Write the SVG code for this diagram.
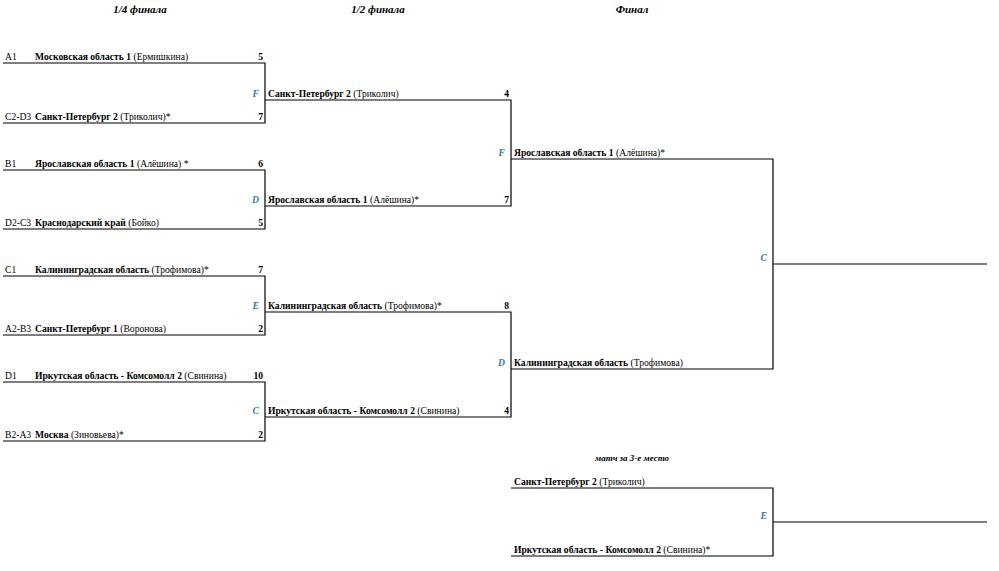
<svg xmlns="http://www.w3.org/2000/svg" width="999" height="571" viewBox="0 0 999 571">
<style>
text{font-family:"Liberation Serif","Times New Roman","DejaVu Serif",serif;font-size:9.6px;fill:#000}
.b{font-weight:bold}
.t{font-weight:bold;font-style:italic;font-size:11px;text-anchor:middle}
.sub{font-weight:bold;font-style:italic;font-size:9px;text-anchor:middle}
.s{font-weight:bold;text-anchor:end}
.l{font-weight:bold;font-style:italic;fill:#2e75b6;text-anchor:end}
.c path{fill:none;stroke:#000;stroke-width:1.2}
</style>
<rect width="999" height="571" fill="#fff"/>
<g id="titles">
<text class="t" x="140" y="13">1/4 финала</text>
<text class="t" x="378" y="13">1/2 финала</text>
<text class="t" x="632" y="13">Финал</text>
<text class="sub" x="632" y="461">матч за 3-е место</text>
</g>
<g class="c" id="connectors">
<path d="M3,63H265V123H3"/>
<path d="M3,170H265V229H3"/>
<path d="M3,276H265V335H3"/>
<path d="M3,382H265V441H3"/>
<path d="M265,100H511V206H265"/>
<path d="M265,312H511V417H265"/>
<path d="M511,159H773V369H511"/>
<path d="M773,264H987"/>
<path d="M511,488H773V556H511"/>
<path d="M773,522H987"/>
</g>
<g id="qf1"><text x="5" y="60">A1</text><text x="35" y="60"><tspan class="b">Московская область 1</tspan> (Ермишкина)</text><text class="s" x="263" y="60">5</text></g>
<g id="qf2"><text x="5" y="120">C2-D3</text><text x="35" y="120"><tspan class="b">Санкт-Петербург 2</tspan> (Триколич)*</text><text class="s" x="263" y="120">7</text></g>
<g id="qf3"><text x="5" y="167">B1</text><text x="35" y="167"><tspan class="b">Ярославская область 1</tspan> (Алёшина) *</text><text class="s" x="263" y="167">6</text></g>
<g id="qf4"><text x="5" y="226">D2-C3</text><text x="35" y="226"><tspan class="b">Краснодарский край</tspan> (Бойко)</text><text class="s" x="263" y="226">5</text></g>
<g id="qf5"><text x="5" y="273">C1</text><text x="35" y="273"><tspan class="b">Калининградская область</tspan> (Трофимова)*</text><text class="s" x="263" y="273">7</text></g>
<g id="qf6"><text x="5" y="332">A2-B3</text><text x="35" y="332"><tspan class="b">Санкт-Петербург 1</tspan> (Воронова)</text><text class="s" x="263" y="332">2</text></g>
<g id="qf7"><text x="5" y="379">D1</text><text x="35" y="379"><tspan class="b">Иркутская область - Комсомолл 2</tspan> (Свинина)</text><text class="s" x="263" y="379">10</text></g>
<g id="qf8"><text x="5" y="438">B2-A3</text><text x="35" y="438"><tspan class="b">Москва</tspan> (Зиновьева)*</text><text class="s" x="263" y="438">2</text></g>
<g id="sf1"><text class="l" x="259" y="97">F</text><text x="268" y="97"><tspan class="b">Санкт-Петербург 2</tspan> (Триколич)</text><text class="s" x="509" y="97">4</text></g>
<g id="sf2"><text class="l" x="259" y="203">D</text><text x="268" y="203"><tspan class="b">Ярославская область 1</tspan> (Алёшина)*</text><text class="s" x="509" y="203">7</text></g>
<g id="sf3"><text class="l" x="259" y="309">E</text><text x="268" y="309"><tspan class="b">Калининградская область</tspan> (Трофимова)*</text><text class="s" x="509" y="309">8</text></g>
<g id="sf4"><text class="l" x="259" y="414">C</text><text x="268" y="414"><tspan class="b">Иркутская область - Комсомолл 2</tspan> (Свинина)</text><text class="s" x="509" y="414">4</text></g>
<g id="f1"><text class="l" x="505" y="156">F</text><text x="514" y="156"><tspan class="b">Ярославская область 1</tspan> (Алёшина)*</text></g>
<g id="f2"><text class="l" x="505" y="366">D</text><text x="514" y="366"><tspan class="b">Калининградская область</tspan> (Трофимова)</text></g>
<g id="final"><text class="l" x="767" y="261">C</text></g>
<g id="t1"><text x="514" y="485"><tspan class="b">Санкт-Петербург 2</tspan> (Триколич)</text></g>
<g id="t2"><text x="514" y="553"><tspan class="b">Иркутская область - Комсомолл 2</tspan> (Свинина)*</text></g>
<g id="third"><text class="l" x="767" y="519">E</text></g>
</svg>
